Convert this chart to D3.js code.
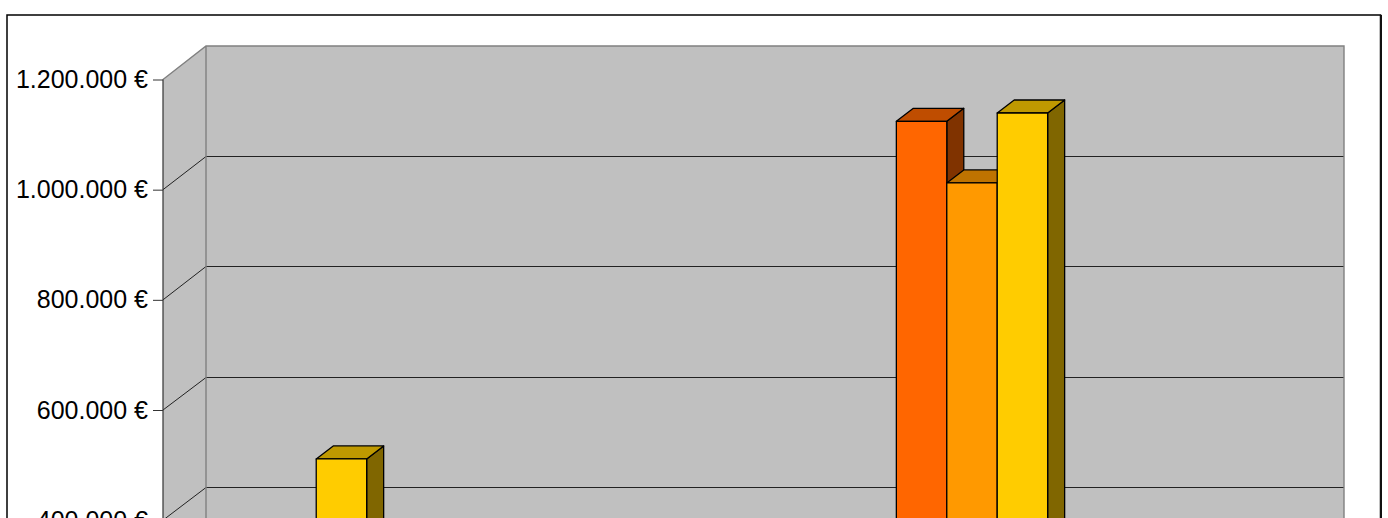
<!DOCTYPE html>
<html><head><meta charset="utf-8">
<script src="https://cdn.jsdelivr.net/npm/d3@7"></script>
<style>html,body{margin:0;padding:0;background:#fff;overflow:hidden}svg{display:block}</style>
</head><body>
<svg id="c" width="1388" height="518"></svg>
<script>
// Category labels lie below the visible crop; groups are identified by position only.
const categories = ["1", "2", "3", "4", "5"];
const seriesNames = ["a", "b", "c"];
// null = bar top is below the visible crop, so its value cannot be read.
const seriesA = [null, null, null, 1106000, null];
const seriesB = [null, null, null, 994000, null];
const seriesC = [493000, null, null, 1121000, null];
const tickValues = [0, 200000, 400000, 600000, 800000, 1000000, 1200000];
const baseColors = ["#ff6600", "#ff9900", "#ffcc00"];
const topColors  = ["#bf4d00", "#bf7300", "#bf9900"];
const sideColors = ["#803300", "#804d00", "#806600"];

const allSeries = [seriesA, seriesB, seriesC];
const wallDx = 43, wallDy = 33.5, barPlaneDx = 14, barPlaneDy = 10, barDx = 17, barDy = 13;
const left = 163, right = 1301;

const svg = d3.select("#c");
const y = d3.scaleLinear().domain([0, 1200000]).range([740.5, 79.5]);
const x0 = d3.scaleBand().domain(categories).range([163.5, 1298.5]).padding(0.3335).paddingOuter(0.1668);
const x1 = d3.scaleBand().domain(seriesNames).range([0, x0.bandwidth()]);

// frame
svg.append("rect").attr("x", 7).attr("y", 15).attr("width", 1373.5).attr("height", 900)
  .attr("fill", "#fff").attr("stroke", "#000").attr("stroke-width", 1.5);
svg.append("line").attr("x1", 1381).attr("x2", 1381).attr("y1", 15).attr("y2", 518)
  .attr("stroke", "#111").attr("stroke-width", 2);

// walls
const y0 = y(0), yT = y(1200000);
svg.append("path")
  .attr("d", `M${left},${yT}L${left + wallDx},${yT - wallDy}V${y0 - wallDy}L${left},${y0}Z`)
  .attr("fill", "#c0c0c0");
svg.append("rect").attr("x", left + wallDx).attr("y", yT - wallDy)
  .attr("width", right - left).attr("height", y0 - yT)
  .attr("fill", "#c0c0c0");

// gridlines: snapped to a pixel row so the back-wall lines stay sharp
const grid = tickValues.filter(d => d < 1200000);
const row = d => Math.round(y(d) - wallDy) + 0.5;
svg.append("g").selectAll("path").data(grid).join("path")
  .attr("d", d => `M${left},${y(d)}L${left + wallDx},${row(d)}H${right + wallDx}`)
  .attr("fill", "none").attr("stroke", "#222").attr("stroke-width", 1);

// wall outlines
svg.append("path")
  .attr("d", `M${left},${yT}L${left + wallDx},${yT - wallDy}H${right + wallDx}V${y0 - wallDy}M${left + wallDx},${yT - wallDy}V${y0 - wallDy}`)
  .attr("fill", "none").attr("stroke", "#808080").attr("stroke-width", 1.4);

// axis
const fmt = d3.formatLocale({decimal: ",", thousands: ".", grouping: [3], currency: ["", "\u00a0€"]}).format("$,");
const axis = svg.append("g").attr("transform", `translate(${left},0)`)
  .call(d3.axisLeft(y).tickValues(tickValues).tickFormat(fmt).tickSize(10).tickPadding(5));
axis.select(".domain").attr("stroke", "#333").attr("stroke-width", 1.2).attr("d", `M0,${yT}V${y0}`);
axis.selectAll(".tick line").attr("stroke", "#333");
axis.selectAll("text").attr("font-family", "Liberation Sans, Arial, sans-serif")
  .attr("font-size", 25).attr("fill", "#000");

// bars
const rows = [];
categories.forEach((c, i) => seriesNames.forEach((s, k) => {
  if (allSeries[k][i] !== null) rows.push({c, s, k, v: allSeries[k][i]});
}));
const bars = svg.append("g").attr("stroke", "#000").attr("stroke-width", 1.3).attr("stroke-linejoin", "round");
const bx = d => x0(d.c) + x1(d.s) + barPlaneDx;
const by = d => y(d.v) - barPlaneDy;
const g = bars.selectAll("g").data(rows).join("g");
g.append("path").attr("fill", d => sideColors[d.k])
  .attr("d", d => { const X = bx(d) + x1.bandwidth(), Y = by(d), B = y(0) - barPlaneDy;
    return `M${X},${Y}l${barDx},${-barDy}V${B - barDy}L${X},${B}Z`; });
g.append("path").attr("fill", d => topColors[d.k])
  .attr("d", d => { const X = bx(d), Y = by(d), W = x1.bandwidth();
    return `M${X},${Y}l${barDx},${-barDy}h${W}l${-barDx},${barDy}Z`; });
g.append("rect").attr("fill", d => baseColors[d.k])
  .attr("x", bx).attr("y", by).attr("width", x1.bandwidth())
  .attr("height", d => y(0) - y(d.v));
</script>
</body></html>
